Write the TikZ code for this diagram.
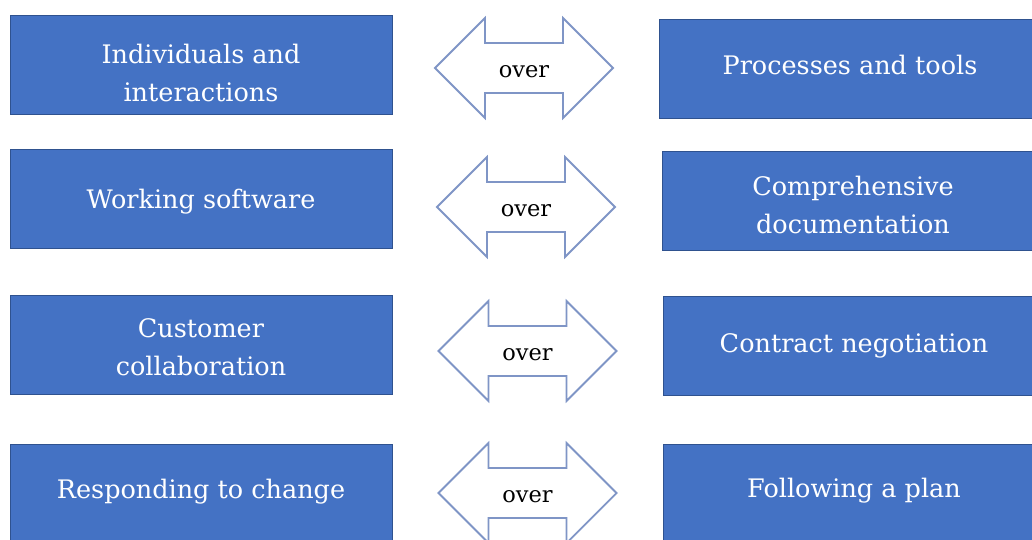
\documentclass[tikz,border=0pt]{standalone}
\usepackage{fontspec}
\setmainfont{DejaVu Serif}
\definecolor{boxblue}{HTML}{4472C4}
\definecolor{boxedge}{HTML}{2F528F}
\definecolor{arrowedge}{HTML}{7F95C6}
% move a line of text up or down without changing its box
\newcommand{\shiftline}[2]{\raisebox{#1}[\height][\depth]{#2}}

\begin{document}
\begin{tikzpicture}[x=1pt,y=-1pt,
  value node/.style={rectangle,draw=boxedge,fill=boxblue,line width=0.8pt,
    minimum width=382pt,minimum height=99pt,align=center,text=white,
    font=\fontsize{25.5}{38}\selectfont},
  over arrow/.style={draw=arrowedge,line width=1.8pt,fill=white,line join=miter},
  over text/.style={font=\fontsize{22.5}{26}\selectfont,yshift=-4pt}]

  \useasboundingbox (0,0) rectangle (1032,539);

  % valued more (left)
  \node[value node] (l1) at (201,64.5) {\shiftline{-8pt}{Individuals and}\\\shiftline{-8pt}{interactions}};
  \node[value node] (l2) at (201,199) {\shiftline{-3pt}{Working software}};
  \node[value node] (l3) at (201,345) {\shiftline{-2pt}{Customer}\\\shiftline{-2pt}{collaboration}};
  \node[value node] (l4) at (201,493.5) {\shiftline{2pt}{Responding to change}};

  % valued less (right)
  \node[value node] (r1) at (850,69) {\shiftline{4pt}{Processes and tools}};
  \node[value node] (r2) at (853,201) {\shiftline{-4pt}{Comprehensive}\\\shiftline{-4pt}{documentation}};
  \node[value node] (r3) at (854,346) {Contract negotiation};
  \node[value node] (r4) at (854,493.5) {\shiftline{3pt}{Following a plan}};

  % double arrows in between
  \coordinate (a1) at (524,68);
  \coordinate (a2) at (526,207);
  \coordinate (a3) at (527.5,351);
  \coordinate (a4) at (527.5,493);
  \foreach \a in {a1,a2,a3,a4} {
    \draw[over arrow] (\a) ++(-89,0) -- ++(50,-50) -- ++(0,25) -- ++(78,0)
      -- ++(0,-25) -- ++(50,50) -- ++(-50,50) -- ++(0,-25) -- ++(-78,0)
      -- ++(0,25) -- cycle;
    \node[over text] at (\a) {over};
  }
\end{tikzpicture}
\end{document}
